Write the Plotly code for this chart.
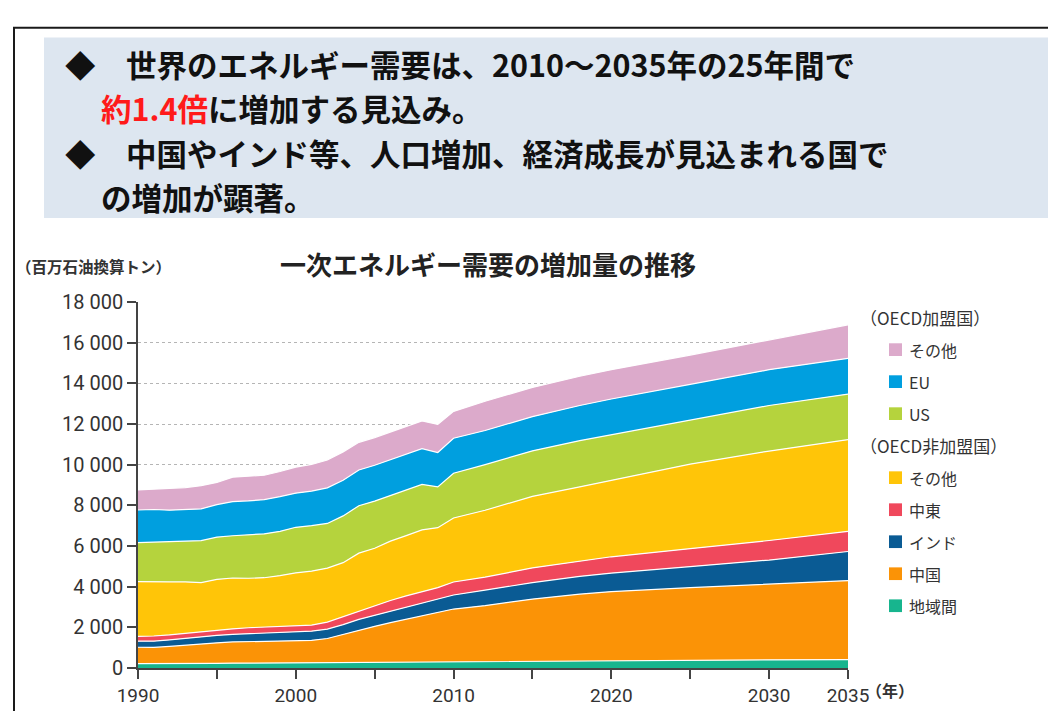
import plotly.graph_objects as go

years = [1990, 1991, 1992, 1993, 1994, 1995, 1996, 1997, 1998, 1999, 2000,
         2001, 2002, 2003, 2004, 2005, 2006, 2007, 2008, 2009, 2010,
         2012, 2015, 2018, 2020, 2025, 2030, 2035]

# 百万石油換算トン (stacked bottom -> top)
interregional = [220, 215, 220, 225, 225, 230, 235, 240, 245, 250, 255,
                 260, 265, 280, 300, 310, 315, 320, 325, 320, 330,
                 340, 350, 365, 370, 390, 400, 410]
china = [800, 795, 840, 905, 955, 1010, 1045, 1050, 1055, 1070, 1085,
         1100, 1185, 1370, 1580, 1740, 1915, 2080, 2235, 2400, 2570,
         2730, 3040, 3265, 3390, 3560, 3710, 3890]
india = [300, 310, 320, 330, 345, 360, 375, 390, 405, 420, 440,
         450, 460, 480, 510, 540, 570, 600, 630, 660, 690,
         760, 810, 880, 910, 1040, 1200, 1430]
middle_east = [240, 255, 250, 250, 250, 255, 270, 300, 305, 310, 300,
               300, 350, 400, 410, 450, 520, 550, 570, 570, 640,
               640, 720, 750, 800, 880, 960, 990]
non_oecd_other = [2690, 2685, 2605, 2525, 2420, 2500, 2500, 2435, 2430, 2495, 2600,
                  2650, 2650, 2650, 2850, 2850, 2920, 2960, 3030, 2950, 3150,
                  3290, 3520, 3650, 3760, 4160, 4400, 4510]
us = [1920, 1925, 1955, 2000, 2065, 2080, 2080, 2125, 2160, 2175, 2240,
      2240, 2200, 2300, 2330, 2320, 2240, 2240, 2240, 2010, 2200,
      2240, 2240, 2270, 2240, 2160, 2240, 2240]
eu = [1600, 1610, 1570, 1565, 1565, 1600, 1680, 1680, 1680, 1710, 1680,
      1700, 1750, 1750, 1760, 1760, 1760, 1760, 1760, 1690, 1720,
      1680, 1680, 1730, 1760, 1760, 1760, 1760]
oecd_other = [990, 1000, 1050, 1075, 1140, 1090, 1200, 1200, 1200, 1235, 1280,
              1310, 1370, 1400, 1360, 1360, 1360, 1360, 1360, 1380, 1320,
              1440, 1440, 1440, 1440, 1440, 1470, 1650]

series = [
    ("地域間", interregional, "#17b58e"),
    ("中国", china, "#fb9306"),
    ("インド", india, "#0a5b94"),
    ("中東", middle_east, "#f0485c"),
    ("その他", non_oecd_other, "#ffc508"),
    ("US", us, "#b5d33d"),
    ("EU", eu, "#009fdf"),
    ("その他", oecd_other, "#dcaacb"),
]

y_ticks = [0, 2000, 4000, 6000, 8000, 10000, 12000, 14000, 16000, 18000]
y_tick_labels = ["0", "2 000", "4 000", "6 000", "8 000", "10 000",
                 "12 000", "14 000", "16 000", "18 000"]
x_ticks = [1990, 1995, 2000, 2005, 2010, 2015, 2020, 2025, 2030, 2035]
x_tick_labels = ["1990", "", "2000", "", "2010", "", "2020", "", "2030", "2035"]

oecd_items = ["その他", "EU", "US"]
non_oecd_items = ["その他", "中東", "インド", "中国", "地域間"]

header_lines = [
    "◆　世界のエネルギー需要は、2010～2035年の25年間で",
    "<span style='color:#ff1a1a'>約1.4倍</span>に増加する見込み。",
    "◆　中国やインド等、人口増加、経済成長が見込まれる国で",
    "の増加が顕著。",
]

# plot area in page pixels, used to place the decorations
L, R, T, B = 130, 840, 294, 669


def px(x):
    return (x - L) / (R - L)


def py(y):
    return (B - y) / (B - T)


JP = "Noto Sans CJK JP"
TICK_FONT = "Liberation Sans Narrow, Roboto, sans-serif"

fig = go.Figure()
for name, vals, color in series:
    fig.add_trace(go.Scatter(
        x=years, y=vals, name=name, mode="lines", stackgroup="one",
        line=dict(color="white", width=1.2), fillcolor=color,
        showlegend=False,
    ))

shapes = [
    # outer frame
    dict(type="line", xref="paper", yref="paper", x0=px(5), x1=px(1060), y0=py(13), y1=py(13),
         line=dict(color="#1a1a1a", width=2)),
    dict(type="line", xref="paper", yref="paper", x0=px(6), x1=px(6), y0=py(13), y1=py(715),
         line=dict(color="#1a1a1a", width=2)),
    # header box
    dict(type="rect", xref="paper", yref="paper", x0=px(36), x1=px(1045), y0=py(23), y1=py(208),
         fillcolor="#dde6f0", line=dict(width=0), layer="below"),
]

annotations = []
for i, line in enumerate(header_lines):
    annotations.append(dict(
        text=line, x=px(56 if i % 2 == 0 else 92), y=py(50 + 45.5 * i),
        xanchor="left", yanchor="middle", borderpad=0,
        xref="paper", yref="paper", showarrow=False,
        font=dict(family=JP, size=30.5, color="#111", weight="bold")))

annotations += [
    dict(text="一次エネルギー需要の増加量の推移", x=px(270), y=py(255), xanchor="left", yanchor="middle",
         xref="paper", yref="paper", showarrow=False,
         font=dict(family=JP, size=26, color="#222", weight="bold")),
    dict(text="（百万石油換算トン）", x=px(6), y=py(257), xanchor="left", yanchor="middle",
         xref="paper", yref="paper", showarrow=False,
         font=dict(family=JP, size=15.5, color="#333", weight="bold")),
    dict(text="（年）", x=px(856), y=py(692), xanchor="left", yanchor="middle",
         xref="paper", yref="paper", showarrow=False,
         font=dict(family=JP, size=16, color="#333", weight="bold")),
]

# legend drawn by hand so it can carry the two group headings
colors = {}
for name, vals, color in series:
    colors.setdefault(name, []).append(color)
legend_rows = [("（OECD加盟国）", None)]
legend_rows += [(n, colors[n][-1]) for n in oecd_items]
legend_rows += [("（OECD非加盟国）", None)]
legend_rows += [(n, colors[n][0]) for n in non_oecd_items]

row_y = 310
for label, color in legend_rows:
    if color is None:
        annotations.append(dict(text=label, x=px(850), y=py(row_y), xanchor="left", yanchor="middle",
                                xref="paper", yref="paper", showarrow=False,
                                font=dict(family=JP, size=17, color="#333")))
    else:
        shapes.append(dict(type="rect", xref="paper", yref="paper",
                           x0=px(881), x1=px(894), y0=py(row_y - 6.5), y1=py(row_y + 6.5),
                           fillcolor=color, line=dict(width=0)))
        annotations.append(dict(text=label, x=px(899), y=py(row_y), xanchor="left", yanchor="middle",
                                xref="paper", yref="paper", showarrow=False,
                                font=dict(family=JP, size=16, color="#333")))
    row_y += 32.8

fig.update_layout(
    width=1056, height=711,
    margin=dict(l=L, r=1056 - R, t=T, b=711 - B),
    paper_bgcolor="white", plot_bgcolor="white",
    showlegend=False,
    shapes=shapes, annotations=annotations,
    xaxis=dict(range=[1990, 2035], tickvals=x_ticks, ticktext=x_tick_labels,
               showgrid=False, zeroline=False, showline=True, linecolor="#444", linewidth=1.5,
               ticks="outside", ticklen=9, tickcolor="#444", tickwidth=1.5,
               tickfont=dict(family=TICK_FONT, size=19, color="#333")),
    yaxis=dict(range=[0, 18000], tickvals=y_ticks, ticktext=y_tick_labels,
               showgrid=True, gridcolor="#b5b5b5", griddash="3px,3px", gridwidth=1,
               zeroline=False, showline=True, linecolor="#444", linewidth=1.5,
               ticks="outside", ticklen=9, tickcolor="#444", tickwidth=1.5,
               tickfont=dict(family=TICK_FONT, size=20, color="#333")),
)

fig.write_html("out.html")
